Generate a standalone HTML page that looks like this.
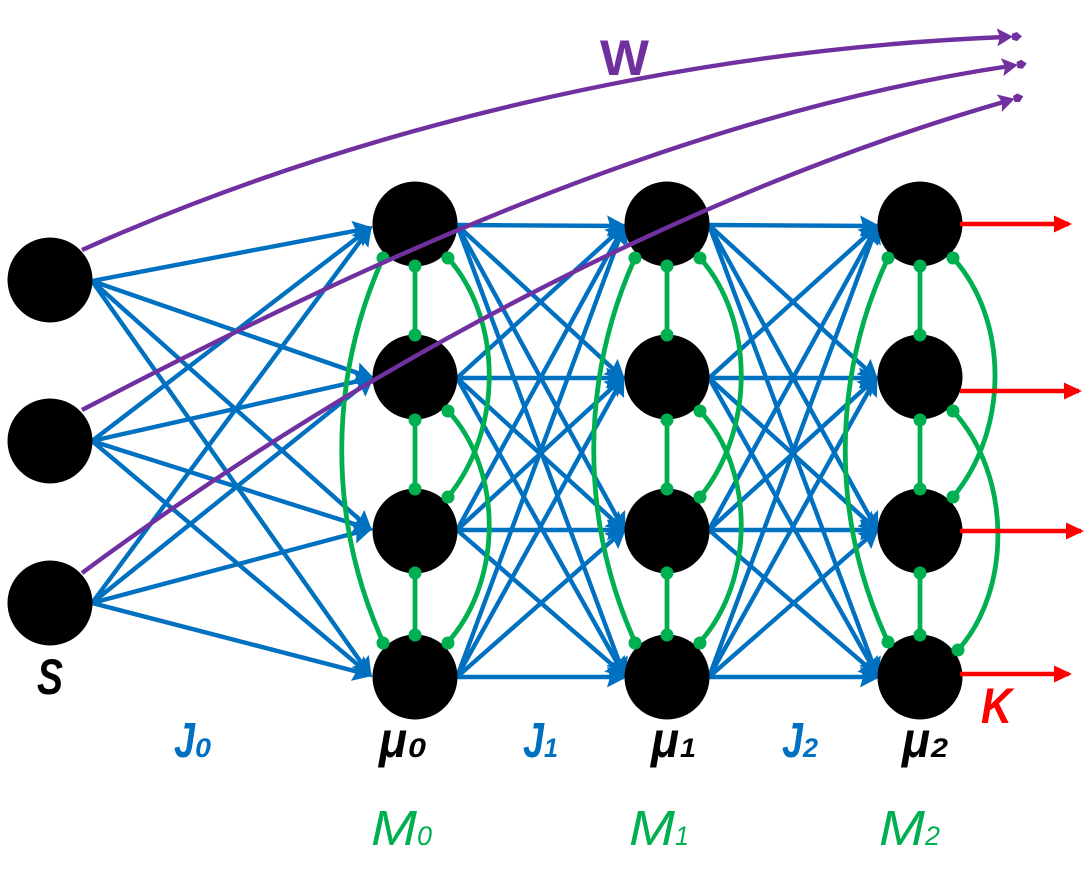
<!DOCTYPE html>
<html><head><meta charset="utf-8"><style>
html,body{margin:0;padding:0;background:#fff}
svg{display:block}
.b line{stroke:#0070C0;stroke-width:4.4;marker-end:url(#bh)}
.g path{fill:none;stroke:#00B050;stroke-width:4.8}
.g line{stroke:#00B050;stroke-width:4.8}
.g circle{fill:#00B050}
.r line{stroke:#F00;stroke-width:4.6;marker-end:url(#rh)}
.p path{fill:none;stroke:#7030A0;stroke-width:4.4;marker-end:url(#ph)}
text{font-family:"Liberation Sans",sans-serif;font-style:italic;font-weight:bold}
</style></head><body>
<svg width="1092" height="896" viewBox="0 0 1092 896" xmlns="http://www.w3.org/2000/svg">
<defs>
<marker id="bh" markerUnits="userSpaceOnUse" markerWidth="28" markerHeight="28" viewBox="0 0 28 28" refX="17" refY="14" orient="auto"><path d="M0 3.5L20 14L0 24.5L3 14Z" fill="#0070C0"/></marker>
<marker id="rh" markerUnits="userSpaceOnUse" markerWidth="24" markerHeight="24" viewBox="0 0 24 24" refX="15" refY="12" orient="auto"><path d="M0 3.5L18 12L0 20.5Z" fill="#F00"/></marker>
<marker id="ph" markerUnits="userSpaceOnUse" markerWidth="34" markerHeight="26" viewBox="0 0 34 26" refX="8" refY="13" orient="auto"><path d="M0 4L16 13L0 22L3 13Z" fill="#7030A0"/><path d="M15 10L20 8.5L25 13L20 17.5L15 16Z" fill="#7030A0"/></marker>
</defs>
<g class="b">
<line x1="92" y1="281" x2="370" y2="228"/><line x1="92" y1="281" x2="372" y2="378"/><line x1="92" y1="281" x2="370" y2="529"/><line x1="92" y1="281" x2="370" y2="675"/>
<line x1="92" y1="441" x2="370" y2="228"/><line x1="92" y1="441" x2="372" y2="378"/><line x1="92" y1="441" x2="370" y2="529"/><line x1="92" y1="441" x2="370" y2="675"/>
<line x1="92" y1="603" x2="370" y2="228"/><line x1="92" y1="603" x2="372" y2="378"/><line x1="92" y1="603" x2="370" y2="529"/><line x1="92" y1="603" x2="370" y2="675"/>
<line x1="457" y1="225" x2="624" y2="226"/><line x1="457" y1="225" x2="623" y2="378"/><line x1="457" y1="225" x2="624" y2="530"/><line x1="457" y1="225" x2="624" y2="675"/>
<line x1="457" y1="378" x2="624" y2="226"/><line x1="457" y1="378" x2="623" y2="378"/><line x1="457" y1="378" x2="624" y2="530"/><line x1="457" y1="378" x2="624" y2="675"/>
<line x1="457" y1="530" x2="624" y2="226"/><line x1="457" y1="530" x2="623" y2="378"/><line x1="457" y1="530" x2="624" y2="530"/><line x1="457" y1="530" x2="624" y2="675"/>
<line x1="457" y1="677" x2="624" y2="226"/><line x1="457" y1="677" x2="623" y2="378"/><line x1="457" y1="677" x2="624" y2="530"/><line x1="457" y1="677" x2="624" y2="677"/>
<line x1="709" y1="225" x2="877" y2="226"/><line x1="709" y1="225" x2="876" y2="378"/><line x1="709" y1="225" x2="877" y2="530"/><line x1="709" y1="225" x2="877" y2="675"/>
<line x1="709" y1="378" x2="877" y2="226"/><line x1="709" y1="378" x2="876" y2="378"/><line x1="709" y1="378" x2="877" y2="530"/><line x1="709" y1="378" x2="877" y2="675"/>
<line x1="709" y1="530" x2="877" y2="226"/><line x1="709" y1="530" x2="876" y2="378"/><line x1="709" y1="530" x2="877" y2="530"/><line x1="709" y1="530" x2="877" y2="675"/>
<line x1="709" y1="677" x2="877" y2="226"/><line x1="709" y1="677" x2="876" y2="378"/><line x1="709" y1="677" x2="877" y2="530"/><line x1="709" y1="677" x2="877" y2="677"/>
</g>
<g fill="#000">
<circle cx="50" cy="280" r="42.5"/><circle cx="50" cy="441" r="42.5"/><circle cx="50" cy="603" r="42.5"/>
<circle cx="415" cy="224" r="42.5"/><circle cx="415" cy="377" r="42.5"/><circle cx="415" cy="531" r="42.5"/><circle cx="415" cy="677" r="42.5"/>
<circle cx="667" cy="224" r="42.5"/><circle cx="667" cy="377" r="42.5"/><circle cx="667" cy="531" r="42.5"/><circle cx="667" cy="677" r="42.5"/>
<circle cx="920" cy="224" r="42.5"/><circle cx="920" cy="377" r="42.5"/><circle cx="920" cy="531" r="42.5"/><circle cx="920" cy="677" r="42.5"/>
</g>
<g class="g">
<line x1="415" y1="266" x2="415" y2="335"/><line x1="415" y1="420" x2="415" y2="489"/><line x1="415" y1="573" x2="415" y2="635"/>
<path d="M383 258C328 380 328 520 383 642"/><path d="M448 258C503 320 503 430 448 497"/><path d="M448 411C503 470 503 580 448 642"/>
<circle cx="415" cy="266" r="6.5"/><circle cx="415" cy="335" r="6.5"/><circle cx="415" cy="420" r="6.5"/><circle cx="415" cy="489" r="6.5"/><circle cx="415" cy="573" r="6.5"/><circle cx="415" cy="635" r="6.5"/>
<circle cx="383" cy="258" r="6.5"/><circle cx="448" cy="258" r="6.5"/><circle cx="448" cy="411" r="6.5"/><circle cx="448" cy="497" r="6.5"/><circle cx="383" cy="643" r="6.5"/><circle cx="448" cy="643" r="6.5"/>
<line x1="667" y1="266" x2="667" y2="335"/><line x1="667" y1="420" x2="667" y2="489"/><line x1="667" y1="573" x2="667" y2="635"/>
<path d="M635 258C580 380 580 520 635 642"/><path d="M700 258C755 320 755 430 700 497"/><path d="M700 411C755 470 755 580 700 642"/>
<circle cx="667" cy="266" r="6.5"/><circle cx="667" cy="335" r="6.5"/><circle cx="667" cy="420" r="6.5"/><circle cx="667" cy="489" r="6.5"/><circle cx="667" cy="573" r="6.5"/><circle cx="667" cy="635" r="6.5"/>
<circle cx="635" cy="258" r="6.5"/><circle cx="700" cy="258" r="6.5"/><circle cx="700" cy="411" r="6.5"/><circle cx="700" cy="497" r="6.5"/><circle cx="635" cy="643" r="6.5"/><circle cx="700" cy="643" r="6.5"/>
<line x1="920" y1="266" x2="920" y2="335"/><line x1="920" y1="420" x2="920" y2="489"/><line x1="920" y1="573" x2="920" y2="635"/>
<path d="M888 258C831 380 831 520 888 642"/><path d="M953 258C1009 320 1009 430 953 497"/><path d="M953 411C1012 475 1012 590 958 650"/>
<circle cx="920" cy="266" r="6.5"/><circle cx="920" cy="335" r="6.5"/><circle cx="920" cy="420" r="6.5"/><circle cx="920" cy="489" r="6.5"/><circle cx="920" cy="573" r="6.5"/><circle cx="920" cy="635" r="6.5"/>
<circle cx="888" cy="258" r="6.5"/><circle cx="953" cy="258" r="6.5"/><circle cx="953" cy="411" r="6.5"/><circle cx="953" cy="497" r="6.5"/><circle cx="888" cy="642" r="6.5"/><circle cx="958" cy="650" r="6.5"/>
</g>
<g class="r">
<line x1="960" y1="224" x2="1069" y2="224"/><line x1="960" y1="391" x2="1079" y2="391"/><line x1="960" y1="531" x2="1081" y2="531"/><line x1="960" y1="674" x2="1069" y2="674"/>
</g>
<g class="p">
<path d="M82 250C350 130 680 50 1005 37"/>
<path d="M82 410C360 265 680 115 1010 66"/>
<path d="M82 573C350 375 680 195 1007 101"/>
</g>
<text x="600" y="75" font-size="50" fill="#7030A0" style="font-style:normal" textLength="49" lengthAdjust="spacingAndGlyphs">W</text>
<text x="37" y="694" font-size="50" fill="#000" textLength="26" lengthAdjust="spacingAndGlyphs">S</text>
<text x="981" y="723" font-size="50" fill="#F00" textLength="31" lengthAdjust="spacingAndGlyphs">K</text>
<g fill="#0070C0">
<text x="174" y="757" font-size="49" textLength="21" lengthAdjust="spacingAndGlyphs">J</text><text x="195" y="757" font-size="27" textLength="16" lengthAdjust="spacingAndGlyphs">0</text>
<text x="523" y="757" font-size="49" textLength="21" lengthAdjust="spacingAndGlyphs">J</text><text x="544" y="757" font-size="27" textLength="14" lengthAdjust="spacingAndGlyphs">1</text>
<text x="782" y="757" font-size="49" textLength="21" lengthAdjust="spacingAndGlyphs">J</text><text x="803" y="757" font-size="27" textLength="15" lengthAdjust="spacingAndGlyphs">2</text>
</g>
<g fill="#000">
<text x="379" y="757" font-size="50" textLength="28" lengthAdjust="spacingAndGlyphs">μ</text><text x="408" y="757" font-size="27" textLength="18" lengthAdjust="spacingAndGlyphs">0</text>
<text x="651" y="757" font-size="50" textLength="28" lengthAdjust="spacingAndGlyphs">μ</text><text x="680" y="757" font-size="27" textLength="16" lengthAdjust="spacingAndGlyphs">1</text>
<text x="902" y="757" font-size="50" textLength="28" lengthAdjust="spacingAndGlyphs">μ</text><text x="931" y="757" font-size="27" textLength="17" lengthAdjust="spacingAndGlyphs">2</text>
</g>
<g fill="#00B050">
<text x="371" y="845" font-size="49" style="font-weight:normal" textLength="46" lengthAdjust="spacingAndGlyphs">M</text><text x="417" y="845" font-size="27" style="font-weight:normal" textLength="15" lengthAdjust="spacingAndGlyphs">0</text>
<text x="629" y="845" font-size="49" style="font-weight:normal" textLength="46" lengthAdjust="spacingAndGlyphs">M</text><text x="675" y="845" font-size="27" style="font-weight:normal" textLength="14" lengthAdjust="spacingAndGlyphs">1</text>
<text x="879" y="845" font-size="49" style="font-weight:normal" textLength="46" lengthAdjust="spacingAndGlyphs">M</text><text x="925" y="845" font-size="27" style="font-weight:normal" textLength="15" lengthAdjust="spacingAndGlyphs">2</text>
</g>
</svg>
</body></html>
